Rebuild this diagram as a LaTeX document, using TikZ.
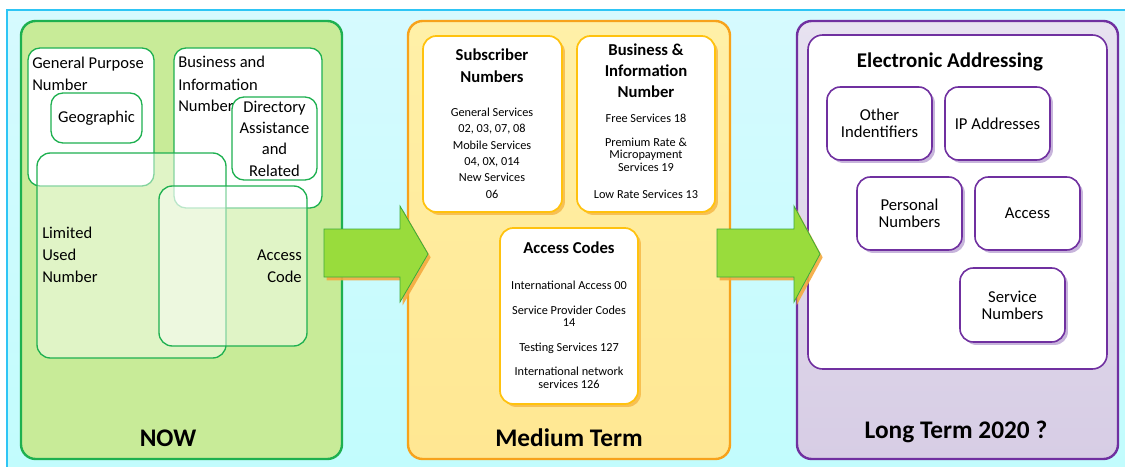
\documentclass[tikz,border=0pt]{standalone}
\usepackage{fontspec}
\setmainfont{Carlito}
\usetikzlibrary{fit,shadows}

\definecolor{skyfill}{HTML}{D6FAFE}
\definecolor{skyfilllow}{HTML}{C2FCFD}
\definecolor{skyline}{HTML}{2EC5F5}
\definecolor{nowfill}{HTML}{C8EB98}
\definecolor{nowline}{HTML}{1EB050}
\definecolor{midfill}{HTML}{FFF0A8}
\definecolor{midfilllow}{HTML}{FFE792}
\definecolor{midline}{HTML}{F7A21B}
\definecolor{midboxline}{HTML}{FFC20E}
\definecolor{midshadow}{HTML}{F6B642}
\definecolor{longfill}{HTML}{E7E2F0}
\definecolor{longfilllow}{HTML}{D7CDE5}
\definecolor{longline}{HTML}{7030A0}
\definecolor{longshadow}{HTML}{B9A2D2}
\definecolor{arrowfill}{HTML}{99DC3C}
\definecolor{arrowline}{HTML}{3DAA3A}
\definecolor{arrowshadow}{HTML}{F5A93E}

\tikzset{
  panel/.style={rounded corners=11pt, line width=1.8pt, inner sep=0pt},
  nowpanel/.style={panel, draw=nowline, fill=nowfill},
  midpanel/.style={panel, draw=midline, top color=midfill, bottom color=midfilllow},
  longpanel/.style={panel, draw=longline, top color=longfill, bottom color=longfilllow},
  paneltitle/.style={font=\fontsize{19}{22}\selectfont\bfseries, inner sep=0pt},
  gbox/.style={draw=nowline, fill=white, line width=1pt, rounded corners=9pt, inner sep=0pt},
  gveil/.style={draw=nowline, fill=white, fill opacity=0.45, line width=1pt,
    rounded corners=10pt, inner sep=0pt},
  gtext/.style={font=\fontsize{12.4}{16.5}\selectfont, inner sep=0pt},
  ybox/.style={draw=midboxline, fill=white, line width=1.3pt, rounded corners=10pt, inner sep=0pt,
    drop shadow={shadow xshift=2.2pt, shadow yshift=-2.2pt, fill=midshadow, opacity=0.8}},
  ytitle/.style={font=\fontsize{12.5}{16.5}\selectfont\bfseries, align=center, inner sep=0pt},
  ysmall/.style={font=\fontsize{9.2}{9.4}\selectfont, align=center, inner sep=0pt},
  pbox/.style={draw=longline, fill=white, line width=1.2pt, rounded corners=10pt, inner sep=0pt,
    drop shadow={shadow xshift=2.2pt, shadow yshift=-2.2pt, fill=longshadow, opacity=0.8}},
  ptext/.style={font=\fontsize{12.5}{12.5}\selectfont, align=center, inner sep=0pt}
  ,bigarrow/.style={draw=arrowline, fill=arrowfill, line width=0.6pt,
    drop shadow={shadow xshift=2pt, shadow yshift=-2.5pt, fill=arrowshadow, opacity=0.9}}
}

\begin{document}
\begin{tikzpicture}[x=0.75pt, y=-0.75pt]
\useasboundingbox (0,0) rectangle (1125,467);

% background
\fill[top color=skyfill, bottom color=skyfilllow] (7,10) rectangle (1125,467);
\draw[skyline, line width=1.6pt] (7,467) -- (7,10) -- (1125,10);

% three panels
\node[nowpanel, fit={(21,21) (342,459)}] (now) {};
\node[midpanel, fit={(408,21) (730,459)}] (mid) {};
\node[longpanel, fit={(797,21) (1118,459)}] (long) {};

% NOW
\node[gbox, fit={(28,48) (154,186)}] (gp) {};
\node[gbox, fit={(174,48) (322,208)}] (bi) {};
\node[gtext, anchor=base west, align=left] (gptext) at (32,90) {General Purpose\\Number};
\node[gtext, anchor=base west, align=left] (bitext) at (178,112) {Business and\\Information\\Number};
\node[gbox, fit={(51,93) (142,143)}] (geo) {};
\node[gtext] (geotext) at (geo) {Geographic};
\node[gbox, fit={(232,97) (317,180)}] (dir) {};
\node[gtext, align=center, font=\fontsize{12.4}{16}\selectfont] (dirtext) at (dir) {Directory\\Assistance\\and\\Related};
\node[gveil, fit={(37,153) (226,358)}] (lim) {};
\node[gveil, fit={(159,186) (307,346)}] (acc) {};
\node[gtext, anchor=base west, align=left] (limtext) at (42,282) {Limited\\Used\\Number};
\node[gtext, anchor=base east, align=right] (acctext) at (302,282) {Access\\Code};
\node[paneltitle, anchor=base] (nowtitle) at (168,446) {NOW};

% Medium Term
\node[ybox, fit={(423,36) (562,212)}] (sub) {};
\node[ybox, fit={(577,36) (715,212)}] (bus) {};
\node[ybox, fit={(500,228) (638,404)}] (codes) {};
\node[ytitle, anchor=base] (subtitle) at (492,82.4) {Subscriber\\Numbers};
\node[ysmall, anchor=base, font=\fontsize{9.2}{12.2}\selectfont] (subtext) at (492,198)
  {General Services\\02, 03, 07, 08\\Mobile Services\\04, 0X, 014\\New Services\\06};
\node[ytitle, anchor=base, font=\fontsize{12.5}{15.75}\selectfont\bfseries] (bustitle) at (646,97.4)
  {Business \&\\Information\\Number};
\node[ysmall, anchor=base] (bustext) at (646,198)
  {Free Services 18\\[8.6pt]Premium Rate \&\\Micropayment\\Services 19\\[10.8pt]Low Rate Services 13};
\node[ytitle, anchor=base] (codestitle) at (569,253.4) {Access Codes};
\node[ysmall, anchor=base] (codestext) at (569,388)
  {International Access 00\\[9.3pt]Service Provider Codes\\14\\[9.3pt]Testing Services 127\\[8.6pt]International network\\services 126};
\node[paneltitle, anchor=base] (midtitle) at (569,446) {Medium Term};

% Long Term
\node[draw=longline, fill=white, line width=1.2pt, rounded corners=11pt, inner sep=0pt,
  fit={(808,35) (1107,369)}] (ea) {};
\node[font=\fontsize{15.7}{18}\selectfont\bfseries, anchor=base, inner sep=0pt] (eatitle) at (950,67.7)
  {Electronic Addressing};
\node[pbox, fit={(827,87) (932,160)}] (other) {};
\node[ptext] (othertext) at (other) {Other\\Indentifiers};
\node[pbox, fit={(945,87) (1050,160)}] (ip) {};
\node[ptext] (iptext) at (ip) {IP Addresses};
\node[pbox, fit={(857,177) (962,250)}] (pers) {};
\node[ptext] (perstext) at (pers) {Personal\\Numbers};
\node[pbox, fit={(975,177) (1080,250)}] (lacc) {};
\node[ptext] (lacctext) at (lacc) {Access};
\node[pbox, fit={(960,268) (1065,342)}] (serv) {};
\node[ptext] (servtext) at (serv) {Service\\Numbers};
\node[paneltitle, anchor=base] (longtitle) at (956,438) {Long Term 2020 ?};

% block arrows
\foreach \ax/\hx/\tx in {324/400/428, 717/794/820}
  \draw[bigarrow] (\ax,229) -- (\hx,229) -- (\hx,206) -- (\tx,254) -- (\hx,302) -- (\hx,277) -- (\ax,277) -- cycle;
\end{tikzpicture}
\end{document}
